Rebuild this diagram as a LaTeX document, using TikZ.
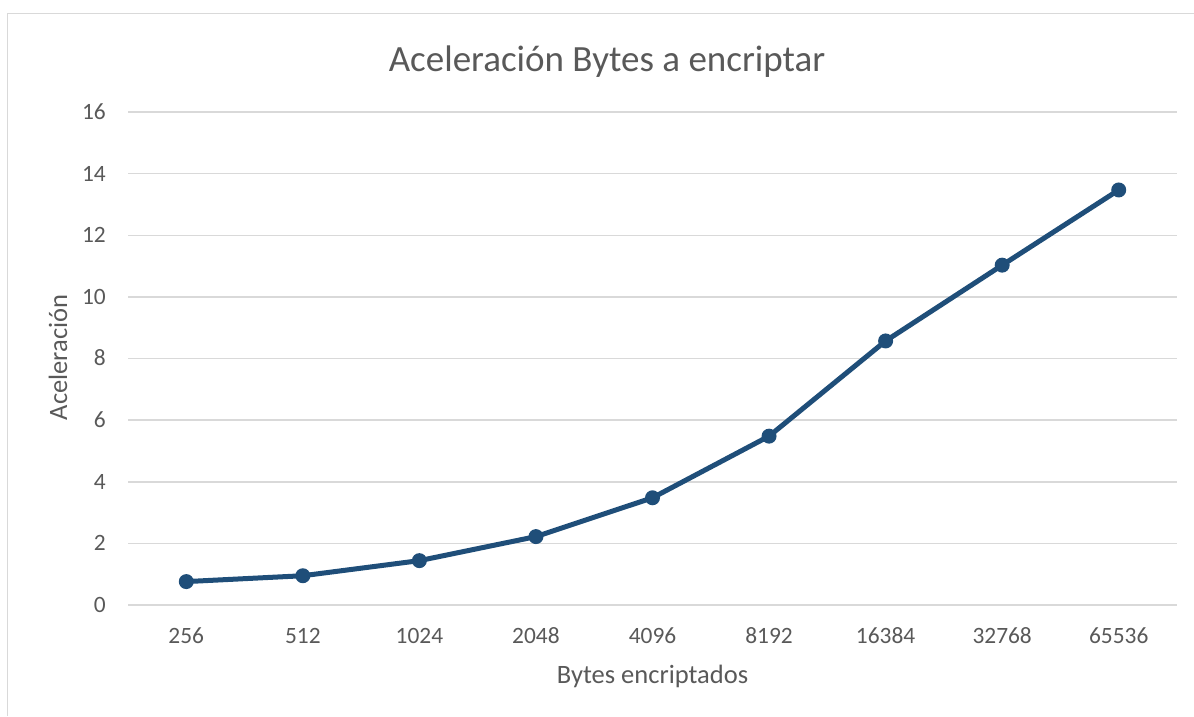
\documentclass[tikz,border=0pt]{standalone}
\usepackage{fontspec}
\setmainfont{Carlito}
\definecolor{txt}{HTML}{595959}
\definecolor{gridc}{HTML}{D9D9D9}
\definecolor{ser}{HTML}{1F4E79}
\tikzset{
  gridline/.style={draw=gridc, line width=1.5pt},
  frameline/.style={draw=gridc, line width=1.5pt},
  ticklab/.style={font=\fontsize{23.4}{28}\selectfont, text=txt, inner sep=0pt},
  axtitle/.style={font=\fontsize{26.5}{32}\selectfont, text=txt, inner sep=0pt},
  charttitle/.style={font=\fontsize{37}{44}\selectfont, text=txt, inner sep=0pt},
  serline/.style={draw=ser, line width=5pt, line join=round, line cap=round},
  marker/.style={circle, fill=ser, inner sep=0pt, minimum size=15pt},
}
\begin{document}
\begin{tikzpicture}[x=1pt,y=-1pt]
\useasboundingbox (0,0) rectangle (1194,716);
% chart frame (partially visible)
\draw[frameline] (7.5,716) -- (7.5,13.5) -- (1194,13.5);
% title
\node[charttitle, anchor=base] (title) at (607,71) {Aceleración Bytes a encriptar};
% gridlines and y tick labels
\foreach \v in {0,2,...,16} {
  \draw[gridline] (128,{605-\v*30.8125}) -- (1177,{605-\v*30.8125});
  \node[ticklab, anchor=base east] (yl\v) at (106,{605-\v*30.8125+7.4}) {\v};
}
% x tick labels
\foreach \lab [count=\i] in {256,512,1024,2048,4096,8192,16384,32768,65536} {
  \node[ticklab, anchor=base] (xl\i) at ({128+(\i-0.5)*116.556},643) {\lab};
}
% axis titles
\node[axtitle, anchor=base] (xtitle) at (652.5,683) {Bytes encriptados};
\node[axtitle, anchor=base, rotate=90] (ytitle) at (67,357.5) {Aceleración};
% data markers
\foreach \val [count=\i] in {0.76,0.95,1.44,2.22,3.48,5.48,8.57,11.03,13.47} {
  \node[marker] (p\i) at ({128+(\i-0.5)*116.556},{605-\val*30.8125}) {};
}
% series line
\draw[serline] (p1.center) -- (p2.center) -- (p3.center) -- (p4.center) -- (p5.center)
  -- (p6.center) -- (p7.center) -- (p8.center) -- (p9.center);
\end{tikzpicture}
\end{document}
